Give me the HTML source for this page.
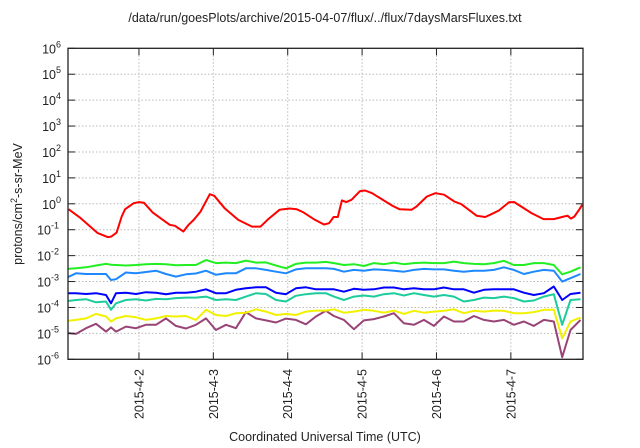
<!DOCTYPE html>
<html><head><meta charset="utf-8"><style>
html,body{margin:0;padding:0;background:#fff;width:640px;height:448px;overflow:hidden}
svg{font-family:"Liberation Sans",sans-serif}
</style></head><body>
<svg id="chart" width="640" height="448" viewBox="0 0 640 448" xmlns="http://www.w3.org/2000/svg">
<text x="325" y="22" font-size="12.5" text-anchor="middle" fill="#222">/data/run/goesPlots/archive/2015-04-07/flux/../flux/7daysMarsFluxes.txt</text>
<text transform="translate(22,204) rotate(-90)" font-size="12.5" text-anchor="middle" fill="#222">protons/cm<tspan dy="-5" font-size="9">2</tspan><tspan dy="5">-s-sr-MeV</tspan></text>
<text x="325" y="441" font-size="12.5" text-anchor="middle" fill="#222">Coordinated Universal Time (UTC)</text>
<g id="grid"></g><g id="series"></g><g id="axes"></g>
</svg>
<script>
const xTickDays=[1,2,3,4,5,6];
const xTickLabels=["2015-4-2","2015-4-3","2015-4-4","2015-4-5","2015-4-6","2015-4-7"];
const yTickExps=[-6,-5,-4,-3,-2,-1,0,1,2,3,4,5,6];
const redDays=[0.053,0.215,0.445,0.584,0.63,0.699,0.768,0.814,0.929,0.999,1.068,1.183,1.413,1.483,1.598,1.667,1.736,1.828,1.953,2.013,2.151,2.336,2.52,2.635,2.727,2.889,3.027,3.119,3.212,3.35,3.488,3.557,3.617,3.673,3.728,3.788,3.857,3.972,4.041,4.134,4.41,4.502,4.664,4.733,4.871,4.986,5.102,5.24,5.332,5.54,5.655,5.724,5.839,5.978,6.047,6.277,6.439,6.577,6.715,6.761,6.808,6.854,6.923,6.96];
const redLog=[-0.21,-0.55,-1.13,-1.29,-1.26,-1.11,-0.49,-0.21,0.025,0.064,0.04,-0.33,-0.81,-0.85,-1.07,-0.81,-0.62,-0.30,0.37,0.31,-0.17,-0.62,-0.88,-0.88,-0.62,-0.23,-0.18,-0.21,-0.33,-0.59,-0.80,-0.75,-0.51,-0.51,0.13,0.064,0.155,0.49,0.515,0.41,-0.08,-0.21,-0.23,-0.10,0.28,0.41,0.35,0.09,-0.01,-0.46,-0.51,-0.42,-0.26,0.064,0.064,-0.36,-0.59,-0.59,-0.49,-0.46,-0.57,-0.49,-0.21,-0.03];
const lowDays=[0.046,0.153,0.288,0.422,0.557,0.624,0.691,0.825,0.96,1.094,1.229,1.363,1.497,1.632,1.766,1.901,2.035,2.17,2.304,2.438,2.573,2.707,2.842,2.976,3.11,3.245,3.379,3.514,
3.621,3.755,3.89,4.024,4.159,4.293,4.427,4.562,4.696,4.831,4.965,5.1,5.234,5.368,5.503,5.637,5.772,5.906,6.04,6.175,6.309,6.444,6.578,6.69,6.802,6.936];
const greenLog=[-2.51,-2.49,-2.45,-2.38,-2.32,-2.35,-2.36,-2.38,-2.36,-2.33,-2.32,-2.33,-2.37,-2.36,-2.36,-2.17,-2.29,-2.27,-2.29,-2.19,-2.27,-2.26,-2.38,-2.49,-2.32,-2.27,-2.27,-2.24,
-2.29,-2.36,-2.33,-2.40,-2.29,-2.33,-2.27,-2.33,-2.29,-2.27,-2.29,-2.29,-2.23,-2.29,-2.32,-2.33,-2.29,-2.20,-2.36,-2.36,-2.29,-2.29,-2.36,-2.72,-2.62,-2.45];
const skyLog=[-2.83,-2.68,-2.71,-2.71,-2.71,-2.94,-2.91,-2.65,-2.68,-2.63,-2.58,-2.71,-2.81,-2.72,-2.69,-2.58,-2.74,-2.68,-2.68,-2.49,-2.49,-2.55,-2.62,-2.68,-2.53,-2.49,-2.49,-2.49,
-2.51,-2.62,-2.55,-2.58,-2.53,-2.55,-2.58,-2.62,-2.55,-2.51,-2.53,-2.53,-2.58,-2.62,-2.58,-2.58,-2.55,-2.45,-2.55,-2.71,-2.62,-2.55,-2.58,-3.00,-2.87,-2.71];
const blueLog=[-3.45,-3.45,-3.48,-3.45,-3.52,-3.84,-3.45,-3.43,-3.48,-3.41,-3.43,-3.49,-3.43,-3.43,-3.39,-3.30,-3.45,-3.45,-3.32,-3.26,-3.22,-3.22,-3.43,-3.49,-3.26,-3.22,-3.30,-3.30,
-3.30,-3.39,-3.28,-3.32,-3.30,-3.23,-3.23,-3.30,-3.26,-3.30,-3.30,-3.23,-3.30,-3.30,-3.43,-3.32,-3.30,-3.30,-3.30,-3.43,-3.52,-3.45,-3.19,-3.71,-3.48,-3.43];
const tealLog=[-3.75,-3.71,-3.68,-3.80,-3.77,-4.09,-3.84,-3.71,-3.68,-3.73,-3.67,-3.68,-3.64,-3.62,-3.62,-3.58,-3.71,-3.68,-3.71,-3.58,-3.45,-3.48,-3.71,-3.77,-3.55,-3.49,-3.45,-3.45,
-3.58,-3.71,-3.58,-3.54,-3.58,-3.49,-3.45,-3.54,-3.45,-3.52,-3.58,-3.52,-3.58,-3.77,-3.71,-3.62,-3.64,-3.58,-3.64,-3.77,-3.73,-3.58,-3.49,-4.67,-3.71,-3.68];
const yellowLog=[-4.52,-4.48,-4.42,-4.25,-4.35,-4.54,-4.42,-4.33,-4.38,-4.48,-4.42,-4.33,-4.35,-4.33,-4.48,-4.09,-4.29,-4.33,-4.22,-4.20,-4.07,-4.16,-4.29,-4.25,-4.29,-4.16,-4.12,-4.12,
-4.07,-4.20,-4.16,-4.09,-4.13,-4.20,-4.12,-4.25,-4.13,-4.20,-4.16,-4.13,-4.07,-4.22,-4.13,-4.16,-4.12,-4.13,-4.22,-4.22,-4.18,-4.09,-4.09,-5.19,-4.54,-4.39];
const purpleLog=[-4.99,-5.02,-4.80,-4.63,-4.93,-4.77,-4.93,-4.74,-4.80,-4.67,-4.67,-4.42,-4.71,-4.81,-4.67,-4.42,-4.87,-4.67,-4.80,-4.18,-4.42,-4.50,-4.58,-4.43,-4.48,-4.65,-4.35,-4.13,
-4.33,-4.48,-4.84,-4.50,-4.45,-4.35,-4.22,-4.61,-4.67,-4.48,-4.71,-4.35,-4.54,-4.54,-4.33,-4.48,-4.54,-4.48,-4.67,-4.54,-4.71,-4.48,-4.54,-5.92,-4.87,-4.48];

const L=68,R=583,T=48.3,B=359.3,X0=0.046,X1=6.97,Y0=-6,Y1=6;
const NS='http://www.w3.org/2000/svg';
function xs(d){return L+(d-X0)/(X1-X0)*(R-L);}
function ys(e){return B-(e-Y0)/(Y1-Y0)*(B-T);}
function mk(tag,attrs,parent){const el=document.createElementNS(NS,tag);for(const k in attrs)el.setAttribute(k,attrs[k]);parent.appendChild(el);return el;}
const grid=document.getElementById('grid'),axes=document.getElementById('axes'),ser=document.getElementById('series');
yTickExps.forEach(e=>{
  const y=ys(e);
  if(e>Y0&&e<Y1){const g=mk('line',{x1:L,x2:R,y1:y,y2:y,stroke:'#bbb','stroke-width':1,'stroke-dasharray':'1.5,2'},grid);
  
  }
  const t1=mk('line',{x1:L,x2:L+7,y1:y,y2:y,stroke:'#222','stroke-width':1},axes);
  
  
  const t2=mk('line',{x1:R-7,x2:R,y1:y,y2:y,stroke:'#222','stroke-width':1},axes);
  
  
  const lab=mk('text',{x:L-9,y:y+5,'font-size':12.5,'text-anchor':'end',fill:'#222'},axes);
  
  
  lab.innerHTML='10<tspan dy="-6" font-size="9">'+e+'</tspan>';
  if(e>=0){lab.setAttribute('x',L-7);}
});
xTickDays.forEach((d,i)=>{
  const x=xs(d);
  const g=mk('line',{x1:x,x2:x,y1:T,y2:B,stroke:'#bbb','stroke-width':1,'stroke-dasharray':'1.5,2'},grid);
  
  
  const t1=mk('line',{x1:x,x2:x,y1:B-7,y2:B,stroke:'#222'},axes);
  
  
  const t2=mk('line',{x1:x,x2:x,y1:T,y2:T+7,stroke:'#222'},axes);
  
  
  const lab=mk('text',{transform:'translate('+(x+4.5)+',369) rotate(-90)','font-size':12.5,'text-anchor':'end',fill:'#222'},axes);
  
  
  lab.textContent=xTickLabels[i];
});
const fr=mk('rect',{x:L,y:T,width:R-L,height:B-T,fill:'none',stroke:'#222','stroke-width':1.3},axes);


function line(days,vals,color,name){
  const pts=days.map((d,i)=>xs(d).toFixed(1)+','+ys(vals[i]).toFixed(1)).join(' ');
  const p=mk('polyline',{points:pts,fill:'none',stroke:color,'stroke-width':2,'stroke-linejoin':'round'},ser);
  
  
}
line(lowDays,purpleLog,'#994477','series-purple');
line(lowDays,yellowLog,'#f2f200','series-yellow');
line(lowDays,tealLog,'#1ccc9c','series-teal');
line(lowDays,blueLog,'#0000ff','series-blue');
line(lowDays,skyLog,'#1e88ff','series-skyblue');
line(lowDays,greenLog,'#22ee22','series-green');
line(redDays,redLog,'#ff0000','series-red');
</script>
</body></html>
